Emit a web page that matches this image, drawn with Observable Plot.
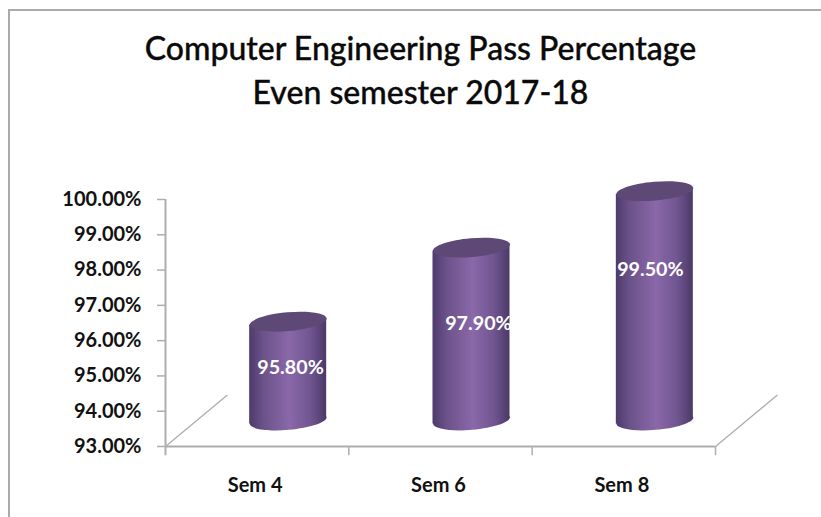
<!DOCTYPE html>
<html>
<head>
<meta charset="utf-8">
<script src="https://cdn.jsdelivr.net/npm/d3@7"></script>
<script src="https://cdn.jsdelivr.net/npm/@observablehq/plot@0.6"></script>
<style>
  html, body { margin: 0; padding: 0; background: #fff; overflow: hidden; }
  #page { position: relative; width: 821px; height: 517px; }
  #frame { position: absolute; left: 8px; top: 9px; width: 830px; height: 530px; border: 2px solid #ababab; box-sizing: border-box; pointer-events: none; }
  #title { position: absolute; left: 0; top: 0; width: 841px; height: 160px; text-align: center; font-family: Lato, sans-serif; font-size: 32px; font-weight: 500; color: #0a0a0a; line-height: 44px; padding-top: 26px; box-sizing: border-box; -webkit-text-stroke: 0.35px #0a0a0a; }
  #chart { position: absolute; left: 0; top: 160px; }
  svg { display: block; }
</style>
</head>
<body>
<div id="page">
  <div id="frame"></div>
  <div id="title">Computer Engineering Pass Percentage<br>Even semester 2017-18</div>
  <div id="chart"></div>
</div>
<script>
const semesters = ["Sem 4", "Sem 6", "Sem 8"];
const passPercent = [95.8, 97.9, 99.5];
const valueTicks = [93, 94, 95, 96, 97, 98, 99, 100];
const labelX = [0.682, 1.707, 2.645];
const labelY = [95.24, 96.47, 98.0];
const floorEdges = [
  [{x: 0, y: 93}, {x: 0.336, y: 94.45}],
  [{x: 3, y: 93}, {x: 3.336, y: 94.45}]
];
const slots = semesters.map((s, i) => i + 0.5);

const halfWidth = 0.21;     // half a cylinder, in x units
const slant = 0.097;        // rise of the elliptical rim across half a cylinder, in y units
const depthX = 31, depthY = -26;

// A tilted ellipse as a custom symbol (rim of the cylinder).
const rim = {
  draw(ctx) {
    const rx = 38.6, ry = 9.4, a = -5 * Math.PI / 180, k = 0.5523;
    const p = (u, v) => [u * rx * Math.cos(a) - v * ry * Math.sin(a), u * rx * Math.sin(a) + v * ry * Math.cos(a)];
    ctx.moveTo(...p(1, 0));
    ctx.bezierCurveTo(...p(1, k), ...p(k, 1), ...p(0, 1));
    ctx.bezierCurveTo(...p(-k, 1), ...p(-1, k), ...p(-1, 0));
    ctx.bezierCurveTo(...p(-1, -k), ...p(-k, -1), ...p(0, -1));
    ctx.bezierCurveTo(...p(k, -1), ...p(1, -k), ...p(1, 0));
    ctx.closePath();
  }
};

const records = semesters.map((s, i) => ({name: s, slot: slots[i], value: passPercent[i]}));
const bodyEdges = records.flatMap(d => [
  {name: d.name, x: d.slot - halfWidth, y1: 93 - slant, y2: d.value - slant},
  {name: d.name, x: d.slot + halfWidth, y1: 93 + slant, y2: d.value + slant}
]);

const gray = "#adadad";
const svg = Plot.plot({
  width: 821,
  height: 357,
  marginLeft: 165,
  marginRight: 106,
  marginTop: 39,
  marginBottom: 71,
  style: {background: "transparent", overflow: "visible"},
  x: {type: "linear", domain: [0, 3], axis: null},
  y: {domain: [93, 100], axis: null},
  marks: [
    Plot.ruleX([0], {y1: 92.74, y2: 100, stroke: gray, strokeWidth: 2}),
    Plot.ruleX([1, 2, 3], {y1: 92.74, y2: 93, stroke: gray, strokeWidth: 1.5}),
    Plot.ruleY([93], {x1: 0, x2: 3, stroke: gray, strokeWidth: 2}),
    ...floorEdges.map(e => Plot.line(e, {x: "x", y: "y", stroke: gray, strokeWidth: 1.3})),
    Plot.axisY({
      ticks: valueTicks,
      tickSize: 8,
      tickPadding: 16,
      tickFormat: d => d.toFixed(2) + "%",
      stroke: gray,
      strokeWidth: 1.5,
      fontSize: 20,
      fontWeight: 700,
      fontFamily: "Lato, sans-serif",
      fill: "#111",
      label: null
    }),
    Plot.text(records, {
      x: "slot", y: () => 93, text: "name", dy: 39, dx: -2,
      fontSize: 20, fontWeight: 700, fontFamily: "Lato, sans-serif", fill: "#111"
    }),
    Plot.dot(records, {x: "slot", y: () => 93, symbol: rim, fill: "url(#cyl)", dx: depthX, dy: depthY}),
    Plot.areaY(bodyEdges, {x: "x", y1: "y1", y2: "y2", z: "name", fill: "url(#cyl)", dx: depthX, dy: depthY}),
    Plot.dot(records, {x: "slot", y: "value", symbol: rim, fill: "#5d4876", dx: depthX, dy: depthY}),
    Plot.text(records, {
      x: (d, i) => labelX[i], y: (d, i) => labelY[i],
      text: d => d.value.toFixed(2) + "%",
      fontSize: 19.7, fontWeight: 700, fontFamily: "Lato, sans-serif", fill: "#fff"
    })
  ]
});
svg.insertAdjacentHTML("afterbegin",
  '<defs><linearGradient id="cyl" x1="0" x2="1" y1="0" y2="0">' +
  '<stop offset="0" stop-color="#4e3a6b"/><stop offset="0.18" stop-color="#6b5289"/>' +
  '<stop offset="0.52" stop-color="#8a68a9"/><stop offset="0.8" stop-color="#6f5590"/>' +
  '<stop offset="1" stop-color="#4b3867"/></linearGradient></defs>');
document.getElementById("chart").appendChild(svg);
</script>
</body>
</html>
